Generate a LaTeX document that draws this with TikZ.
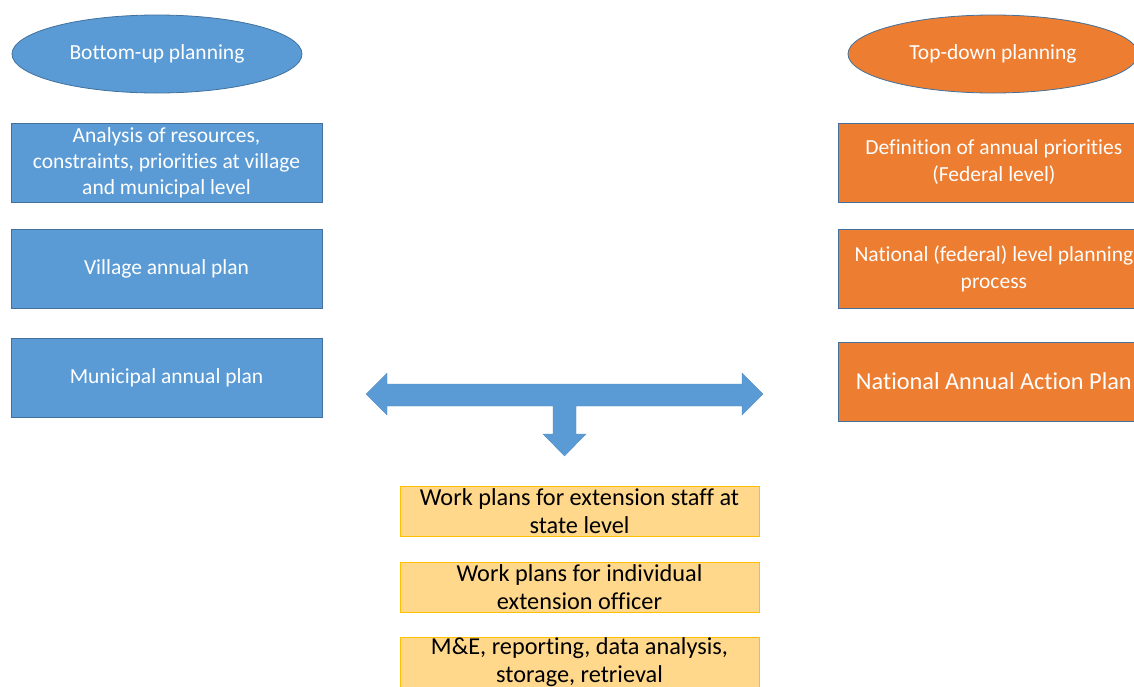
\documentclass[tikz,border=0pt]{standalone}
\usepackage{fontspec}
\setmainfont{Carlito}[Ligatures=NoCommon]
\usetikzlibrary{shapes.geometric}
\definecolor{bfill}{HTML}{5B9BD5}
\definecolor{bline}{HTML}{41719C}
\definecolor{ofill}{HTML}{ED7D31}
\definecolor{yfill}{HTML}{FFD88C}
\definecolor{yline}{HTML}{FFC000}
\tikzset{
  oval/.style={ellipse, draw=bline, line width=0.8pt, minimum width=290pt, minimum height=78pt, text=white, font=\fontsize{21.5}{26}\selectfont, inner sep=0pt},
  bluebox/.style={draw=bline, fill=bfill, line width=0.8pt, minimum width=311pt, minimum height=79pt, text=white, align=center, font=\fontsize{21.5}{26}\selectfont, inner sep=0pt},
  orabox/.style={draw=bline, fill=ofill, line width=0.8pt, minimum width=311pt, minimum height=79pt, text=white, align=center, font=\fontsize{21.5}{27}\selectfont, inner sep=0pt},
  yelbox/.style={draw=yline, fill=yfill, line width=0.8pt, minimum width=359pt, minimum height=50pt, text=black, align=center, font=\fontsize{24.3}{28}\selectfont, inner sep=0pt},
}
\begin{document}
\begin{tikzpicture}[x=1pt,y=-1pt]
\path[use as bounding box, clip] (0,0) rectangle (1134,686);
\fill[white] (0,0) rectangle (1134,686);
% ellipses
\node[oval, fill=bfill] (bu) at (157,54) {Bottom-up planning};
\node[oval, fill=ofill] (td) at (993,54) {Top-down planning};
% left boxes
\node[bluebox] (l1) at (166.5,162.5) {Analysis of resources,\\constraints, priorities at village\\and municipal level};
\node[bluebox] (l2) at (166.5,268.5) {Village annual plan};
\node[bluebox] (l3) at (166.5,378) {Municipal annual plan};
% right boxes
\node[orabox, anchor=west] (r1) at (838,162.5) {Definition of annual priorities\\(Federal level)};
\node[orabox, anchor=west] (r2) at (838,268.5) {National (federal) level planning\\process};
\node[orabox, anchor=west, font=\fontsize{24.3}{28}\selectfont] (r3) at (838,381.5) {National Annual Action Plan};
% arrow
\fill[bfill, draw=bfill!85!black, line width=0.3pt]
  (366,394) -- (387,373) -- (387,384) -- (742,384) -- (742,373) -- (763,394)
  -- (742,415) -- (742,406) -- (576,406) -- (576,434) -- (586,434) -- (564.5,456)
  -- (543,434) -- (553,434) -- (553,406) -- (387,406) -- (387,415) -- cycle;
% bottom boxes
\node[yelbox] (b1) at (579.5,511) {Work plans for extension staff at\\state level};
\node[yelbox] (b2) at (579.5,587) {Work plans for individual\\extension officer};
\node[yelbox] (b3) at (579.5,662) {M\&E, reporting, data analysis,\\storage, retrieval};
\end{tikzpicture}
\end{document}
